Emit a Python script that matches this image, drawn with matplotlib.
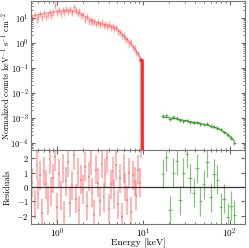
import numpy as np
import matplotlib
matplotlib.use("Agg")
import matplotlib.pyplot as plt

plt.rcParams['font.family'] = 'serif'
plt.rcParams['font.serif'] = ['cmr10', 'DejaVu Serif']
plt.rcParams['mathtext.fontset'] = 'cm'
plt.rcParams['axes.formatter.use_mathtext'] = True
plt.rcParams['axes.unicode_minus'] = False

# spectre basse energie (rouge)
e_red = [0.52, 0.55, 0.58, 0.61, 0.64, 0.67, 0.70, 0.74, 0.78, 0.82, 0.86, 0.90,
         0.95, 1.00, 1.05, 1.10, 1.16, 1.22, 1.28, 1.35, 1.42, 1.49, 1.57, 1.65,
         1.73, 1.82, 1.91, 2.01, 2.11, 2.22, 2.33, 2.45, 2.57, 2.70, 2.84, 2.98,
         3.13, 3.29, 3.46, 3.63, 3.81, 4.00, 4.20, 4.41, 4.63, 4.86, 5.10, 5.36,
         5.63, 5.91, 6.20, 6.51, 6.84, 7.18, 7.54, 7.92, 8.31, 8.73, 9.10, 9.45]
f_red = [11, 13, 9, 12, 15, 11, 16, 12, 14, 17, 13, 18,
         33, 17, 21, 16, 22, 18, 24, 19, 23, 17, 28, 21,
         15, 20, 13, 14, 9, 12, 7.5, 8.5, 6.8, 7.5, 6, 7,
         5.8, 6.8, 5, 6, 4.8, 5.6, 4.4, 5, 3.8, 4.2, 3.0, 2.8,
         2.0, 2.1, 1.5, 1.4, 1.0, 1.1, 0.7, 0.65, 0.45, 0.38, 0.26, 0.2]
m_red = [12, 12.5, 13, 13.5, 14, 14.5, 15, 15.5, 16, 16.5, 17, 17.5,
         18, 18.5, 19, 19, 19.5, 19.5, 19.5, 19.5, 19, 19, 18.5, 18,
         17, 16, 14.5, 13, 11.5, 10.5, 9.5, 8.5, 8, 7.3, 6.8, 6.4,
         6.1, 5.8, 5.6, 5.3, 5.1, 4.9, 4.7, 4.4, 4.1, 3.7, 3.3, 2.8,
         2.4, 2.0, 1.7, 1.4, 1.1, 0.95, 0.75, 0.6, 0.46, 0.35, 0.26, 0.2]
r_red = [0.3, -1.2, 1.5, -0.5, 0.8, -1.8, 1.1, 0.2, -0.9, 1.9, -0.3, 0.6,
         2.1, -1.4, 0.9, -0.6, 1.3, -2.0, 0.4, 1.7, -1.1, 0.1, 2.2, -0.8,
         1.0, -1.6, 0.5, -0.2, 1.4, -1.3, 0.7, 1.8, -0.4, -1.9, 1.2, 0.3,
         -1.0, 1.6, -0.7, 0.9, 2.0, -1.5, 0.2, 1.1, -0.5, 1.5, -1.2, 0.6,
         -2.1, 1.3, 0.0, -0.9, 1.0, -1.7, 0.8, 0.4, -0.6, 1.2, 0.3, 3.0]

# spectre haute energie (vert)
e_grn = [16.8, 18.5, 20.3, 22.2, 24.3, 26.6, 29.1, 31.9, 34.9, 38.2, 41.8,
         45.8, 50.1, 54.9, 60.1, 65.8, 72.0, 78.8, 86.3, 94.5, 103.4, 113.2]
f_grn = [1.2e-3, 1.3e-3, 9e-4, 1.1e-3, 1.0e-3, 8e-4, 7.5e-4, 8.2e-4, 6.8e-4,
         6.5e-4, 6.6e-4, 5.8e-4, 5.5e-4, 5.9e-4, 4.8e-4, 4.5e-4, 4.0e-4,
         3.6e-4, 2.7e-4, 2.1e-4, 1.6e-4, 1.0e-4]
m_grn = [1.1e-3, 1.05e-3, 1.0e-3, 9.6e-4, 9.1e-4, 8.6e-4, 8.1e-4, 7.6e-4,
         7.1e-4, 6.7e-4, 6.3e-4, 5.9e-4, 5.5e-4, 5.1e-4, 4.7e-4, 4.3e-4,
         3.8e-4, 3.3e-4, 2.8e-4, 2.2e-4, 1.7e-4, 1.2e-4]
r_grn = [0.9, 2.1, -1.6, 1.0, 1.8, -0.9, 1.0, 2.3, 0.6, -0.4, 1.3,
         -1.0, 0.2, 1.7, -0.7, 0.9, 0.5, -1.4, -0.8, -2.1, -1.3, -1.9]

e_red, f_red, m_red, r_red = map(np.array, (e_red, f_red, m_red, r_red))
e_grn, f_grn, m_grn, r_grn = map(np.array, (e_grn, f_grn, m_grn, r_grn))

rouge = '#ff2a2a'
vert = '#3a9a2a'

fig = plt.figure(figsize=(2.49, 2.48), dpi=100)
ax1 = fig.add_axes([0.1245, 0.395, 0.859, 0.601])
ax2 = fig.add_axes([0.1245, 0.097, 0.859, 0.298], sharex=ax1)

xe_r = [e_red * 0.022, e_red * 0.022]
xe_g = [e_grn * 0.045, e_grn * 0.045]

ax1.errorbar(e_red, f_red, xerr=xe_r, yerr=f_red * 0.3, fmt='none',
             ecolor=rouge, alpha=0.4, elinewidth=1.0)
ax1.plot(e_red, m_red, color=rouge, lw=0.7, alpha=0.5)
# chute du modele vers 9.7 keV
ax1.plot([e_red[-1], 9.7, 9.72], [m_red[-1], m_red[-1], 1e-7], color=rouge, lw=2.4)
ax1.errorbar(e_grn, f_grn, xerr=xe_g, yerr=f_grn * 0.15, fmt='none',
             ecolor=vert, alpha=0.8, elinewidth=0.9)
ax1.plot(e_grn, m_grn, color=vert, lw=0.8)

ax2.errorbar(e_red, r_red, xerr=xe_r, yerr=1.0, fmt='none',
             ecolor=rouge, alpha=0.4, elinewidth=1.2)
ax2.errorbar(e_grn, r_grn, xerr=xe_g, yerr=1.0, fmt='none',
             ecolor=vert, alpha=0.6, elinewidth=0.9)
ax2.axhline(0, color='#333333', lw=0.9)

ax1.set_xscale('log')
ax1.set_yscale('log')
ax1.set_xlim(0.5, 150)
ax1.set_ylim(5.2e-5, 48)
ax2.set_ylim(-2.55, 2.55)
ax2.set_yticks([-2, -1, 0, 1, 2])

for ax in (ax1, ax2):
    ax.tick_params(which='both', direction='in', top=True, right=True,
                   labelsize=6.2, color='#666666', pad=1.5)
    ax.tick_params(which='major', length=3)
    ax.tick_params(which='minor', length=1.5)
    for s in ax.spines.values():
        s.set_color('#777777')
ax1.tick_params(labelbottom=False)
ax2.tick_params(axis='x', labelsize=6.6, pad=2)

ax1.set_ylabel(r'Normalized counts keV$^{-1}$ s$^{-1}$ cm$^{-2}$', fontsize=5.9)
ax1.yaxis.set_label_coords(-0.09, 0.5)
ax2.set_ylabel('Residuals', fontsize=6.2)
ax2.yaxis.set_label_coords(-0.09, 0.5)
ax2.set_xlabel('Energy [keV]', fontsize=7, labelpad=-1)

fig.savefig('out.png', dpi=100)
